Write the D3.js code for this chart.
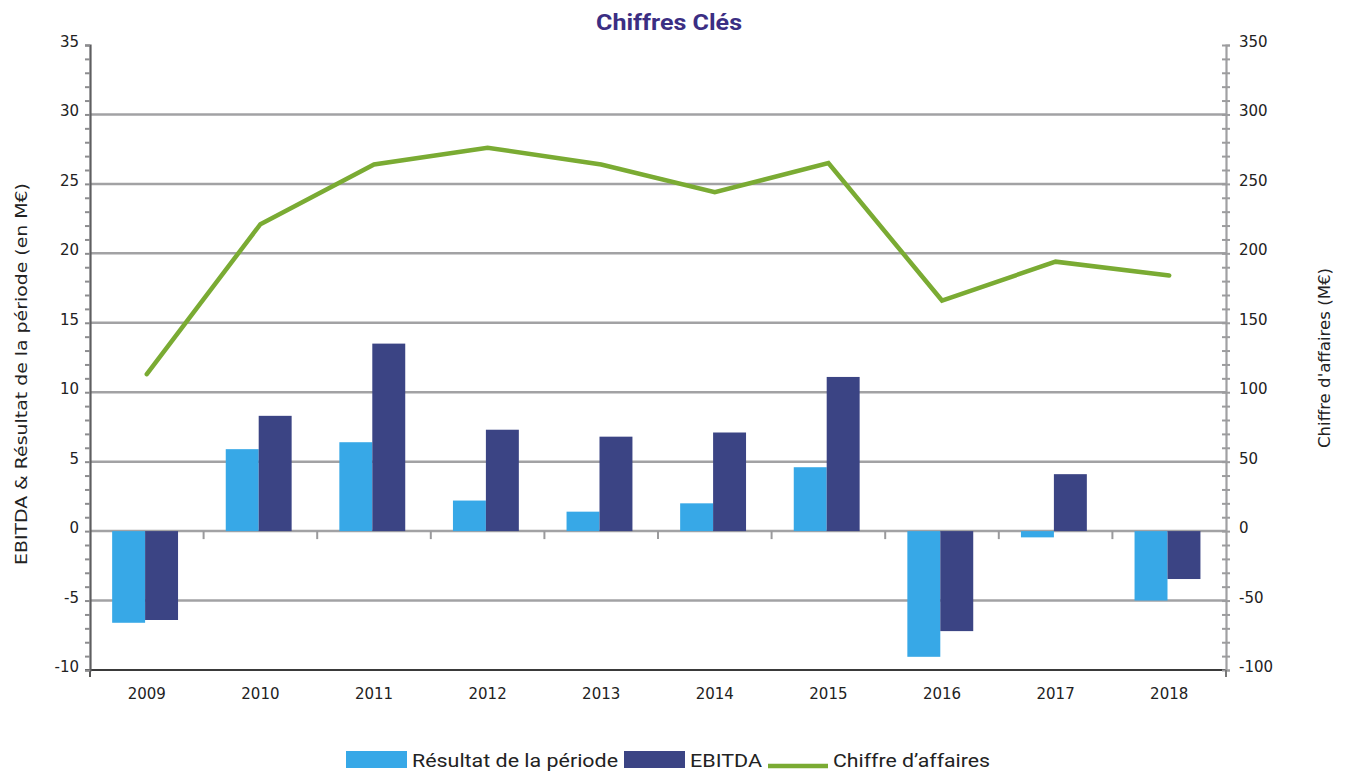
<!DOCTYPE html>
<html>
<head>
<meta charset="utf-8">
<script src="https://cdn.jsdelivr.net/npm/d3@7"></script>
<style>
  html, body { margin: 0; padding: 0; background: #fff; }
  svg { display: block; }
</style>
</head>
<body>
<svg id="chart" width="1349" height="775"></svg>
<script>
const years = ["2009","2010","2011","2012","2013","2014","2015","2016","2017","2018"];
const resultat = [-6.6, 5.9, 6.4, 2.2, 1.4, 2.0, 4.6, -9.05, -0.45, -5.0];
const ebitda = [-6.4, 8.3, 13.5, 7.3, 6.8, 7.1, 11.1, -7.2, 4.1, -3.45];
const chiffre = [113, 221, 264, 276, 264, 244, 265, 166, 194, 184];
const leftTicks = [-10, -5, 0, 5, 10, 15, 20, 25, 30, 35];
const rightTicks = [-100, -50, 0, 50, 100, 150, 200, 250, 300, 350];
const seriesNames = ["Résultat de la période", "EBITDA", "Chiffre d\u2019affaires"];
const colors = { res: "#37a8e7", ebitda: "#3b4484", ca: "#7aab33" };

const svg = d3.select("#chart");
const L = 90, R = 1226, T = 45, B = 670;
const tickFont = "'DejaVu Sans', Verdana, sans-serif";

const yL = d3.scaleLinear().domain([-10, 35]).range([B, T]);
const yR = d3.scaleLinear().domain([-100, 350]).range([B, T]);
const x0 = d3.scaleBand().domain(years).range([L, R]).padding(0);
const bw = x0.bandwidth();
const x1 = d3.scaleBand().domain(["res", "ebitda"]).range([bw * 0.195, bw * 0.775]).padding(0);

// Title
svg.append("text").attr("x", 669).attr("y", 30).attr("text-anchor", "middle")
  .attr("font-family", "Roboto, sans-serif").attr("font-weight", "bold").attr("font-size", 22)
  .attr("fill", "#3b2e83").attr("textLength", 146).attr("lengthAdjust", "spacingAndGlyphs")
  .text("Chiffres Clés");

// Gridlines (every 5 units, except top)
svg.append("g").selectAll("line").data(leftTicks.filter(v => v < 35 && v > -10)).join("line")
  .attr("x1", L).attr("x2", R).attr("y1", d => yL(d)).attr("y2", d => yL(d))
  .attr("stroke", "#a2a2a4").attr("stroke-width", 2.5);

// Bars
const groups = svg.append("g").selectAll("g").data(years).join("g")
  .attr("transform", d => `translate(${x0(d)},0)`);
groups.append("rect")
  .attr("x", x1("res")).attr("width", x1.bandwidth())
  .attr("y", (d, i) => yL(Math.max(0, resultat[i])))
  .attr("height", (d, i) => Math.abs(yL(resultat[i]) - yL(0)))
  .attr("fill", colors.res);
groups.append("rect")
  .attr("x", x1("ebitda")).attr("width", x1.bandwidth())
  .attr("y", (d, i) => yL(Math.max(0, ebitda[i])))
  .attr("height", (d, i) => Math.abs(yL(ebitda[i]) - yL(0)))
  .attr("fill", colors.ebitda);

// Category ticks at zero line
svg.append("g").selectAll("line").data(d3.range(1, years.length)).join("line")
  .attr("x1", i => L + i * x0.step()).attr("x2", i => L + i * x0.step())
  .attr("y1", yL(0)).attr("y2", yL(0) + 8)
  .attr("stroke", "#9a9a9c").attr("stroke-width", 2);

// Bottom frame line
svg.append("line").attr("x1", L - 5).attr("x2", R).attr("y1", B).attr("y2", B)
  .attr("stroke", "#3a3a3a").attr("stroke-width", 2);
svg.append("line").attr("x1", L).attr("x2", L).attr("y1", B).attr("y2", B + 7)
  .attr("stroke", "#555").attr("stroke-width", 2);

// Left axis
const leftAxis = d3.axisLeft(yL).tickValues(d3.range(-10, 36, 1)).tickSize(5)
  .tickFormat(d => (d % 5 === 0 ? d : ""));
const gL = svg.append("g").attr("transform", `translate(${L},0)`).call(leftAxis);
gL.select(".domain").attr("stroke", "#5e5e60").attr("stroke-width", 2.2);
gL.selectAll(".tick line").attr("stroke", "#8d8d8f").attr("stroke-width", 2);
gL.selectAll(".tick text").attr("font-family", tickFont).attr("font-size", 15)
  .attr("fill", "#222").attr("x", -11).attr("dy", "0.1em");

// Right axis
const rightAxis = d3.axisRight(yR).tickValues(d3.range(-100, 351, 10)).tickSize(4)
  .tickFormat(d => (d % 50 === 0 ? d : ""));
const gR = svg.append("g").attr("transform", `translate(${R},0)`).call(rightAxis);
gR.select(".domain").attr("stroke", "#a0a0a2").attr("stroke-width", 2.2);
gR.selectAll(".tick line").attr("x1", -4).attr("stroke", "#9c9c9e").attr("stroke-width", 2);
gR.selectAll(".tick text").attr("font-family", tickFont).attr("font-size", 15)
  .attr("fill", "#222").attr("x", 13).attr("dy", "0.1em");
svg.append("line").attr("x1", R).attr("x2", R).attr("y1", B).attr("y2", B + 7)
  .attr("stroke", "#777").attr("stroke-width", 2);

// X labels
svg.append("g").selectAll("text").data(years).join("text")
  .attr("x", d => x0(d) + bw / 2).attr("y", 699).attr("text-anchor", "middle")
  .attr("font-family", tickFont).attr("font-size", 15).attr("fill", "#222")
  .text(d => d);

// Line
const line = d3.line().x((d, i) => x0(years[i]) + bw / 2).y(d => yR(d));
svg.append("path").datum(chiffre).attr("d", line)
  .attr("fill", "none").attr("stroke", colors.ca).attr("stroke-width", 4.5)
  .attr("stroke-linecap", "round").attr("stroke-linejoin", "miter");

// Axis titles
svg.append("text").attr("transform", "translate(27,374) rotate(-90)").attr("text-anchor", "middle")
  .attr("font-family", tickFont).attr("font-size", 15).attr("fill", "#222")
  .attr("textLength", 382).attr("lengthAdjust", "spacingAndGlyphs")
  .text("EBITDA & Résultat de la période (en M€)");
svg.append("text").attr("transform", "translate(1330,358) rotate(-90)").attr("text-anchor", "middle")
  .attr("font-family", tickFont).attr("font-size", 15).attr("fill", "#222")
  .attr("textLength", 180).attr("lengthAdjust", "spacingAndGlyphs")
  .text("Chiffre d'affaires (M€)");

// Legend
const legY = 760;
const legItems = [
  { name: seriesNames[0], type: "rect", color: colors.res, sx: 346, tx: 412, tw: 206 },
  { name: seriesNames[1], type: "rect", color: colors.ebitda, sx: 624, tx: 690, tw: 72 },
  { name: seriesNames[2], type: "line", color: colors.ca, sx: 768, tx: 833, tw: 157 }
];
const leg = svg.append("g");
legItems.forEach(it => {
  if (it.type === "rect") {
    leg.append("rect").attr("x", it.sx).attr("y", legY - 9).attr("width", 61).attr("height", 17).attr("fill", it.color);
  } else {
    leg.append("line").attr("x1", it.sx).attr("x2", it.sx + 60).attr("y1", legY + 6).attr("y2", legY + 6)
      .attr("stroke", it.color).attr("stroke-width", 4.5);
  }
  leg.append("text").attr("x", it.tx).attr("y", legY + 7)
    .attr("font-family", "Roboto, sans-serif").attr("font-size", 19).attr("fill", "#222")
    .attr("textLength", it.tw).attr("lengthAdjust", "spacingAndGlyphs")
    .text(it.name);
});
</script>
</body>
</html>
